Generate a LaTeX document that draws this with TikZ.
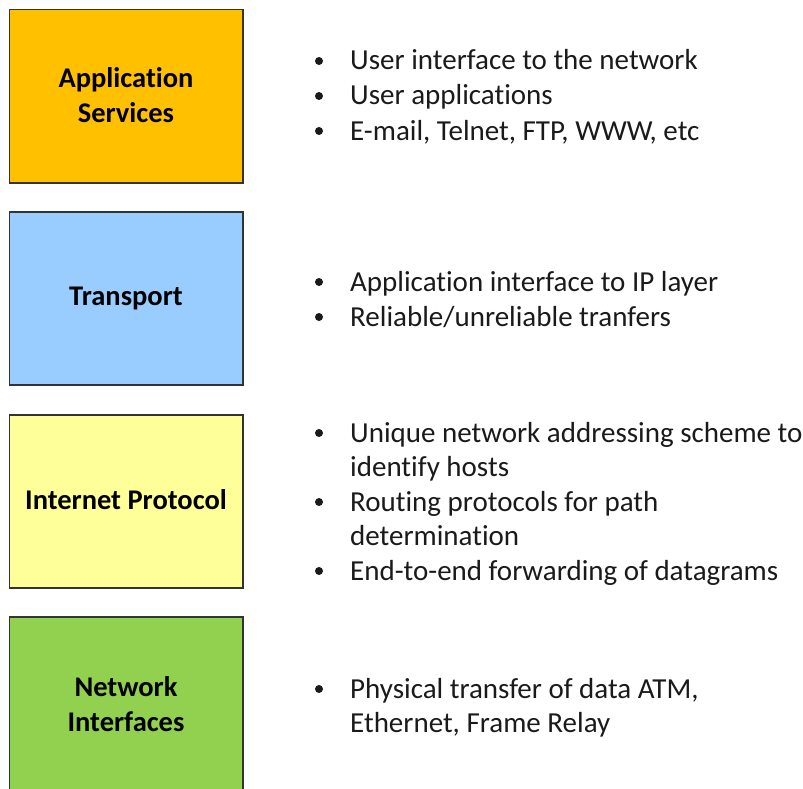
\documentclass[tikz,border=0pt]{standalone}
\usepackage{fontspec}
\setmainfont{Carlito}[Ligatures=NoCommon]
\definecolor{appc}{HTML}{FFC000}
\definecolor{trc}{HTML}{99CCFF}
\definecolor{ipc}{HTML}{FFFF99}
\definecolor{nic}{HTML}{92D050}
\definecolor{edge}{HTML}{333333}
\definecolor{txt}{HTML}{1A1A1A}
\begin{document}
\begin{tikzpicture}[x=1pt,y=-1pt,
  layer/.style={draw=edge,line width=1.5pt},
  lbl/.style={font=\fontsize{28.5}{35}\selectfont\bfseries,align=center,text=black,inner sep=0pt},
  item/.style={font=\fontsize{29}{35}\selectfont,anchor=base west,text=txt,inner sep=0pt},
  dot/.style={circle,fill=txt,inner sep=0pt,minimum size=8pt}]
\useasboundingbox (0,0) rectangle (803,789);
\clip (0,0) rectangle (803,789);
% boxes
\draw[layer,fill=appc] (9.5,9.5) rectangle (243,183);
\draw[layer,fill=trc] (9.5,212) rectangle (243,385);
\draw[layer,fill=ipc] (9.5,415) rectangle (243,588);
\draw[layer,fill=nic] (9.5,617) rectangle (243,800);
% labels
\node[lbl] (app) at (126,95) {Application\\Services};
\node[lbl] (tr) at (126,298) {Transport};
\node[lbl] (ip) at (126,500) {Internet Protocol};
\node[lbl] (ni) at (126,704) {Network\\Interfaces};
% bullets: application
\node[dot] (b1) at (319,61) {};
\node[item] (t1) at (350,70) {User interface to the network};
\node[dot] (b2) at (319,96) {};
\node[item] (t2) at (350,105) {User applications};
\node[dot] (b3) at (319,131) {};
\node[item] (t3) at (350,140) {E-mail, Telnet, FTP, WWW, etc};
% transport
\node[dot] (b4) at (319,282) {};
\node[item] (t4) at (350,291) {Application interface to IP layer};
\node[dot] (b5) at (319,317) {};
\node[item] (t5) at (350,326) {Reliable/unreliable tranfers};
% internet protocol
\node[dot] (b6) at (319,433) {};
\node[item] (t6) at (350,442) {Unique network addressing scheme to};
\node[item] (t6b) at (350,476) {identify hosts};
\node[dot] (b7) at (319,502) {};
\node[item] (t7) at (350,511) {Routing protocols for path};
\node[item] (t7b) at (350,545) {determination};
\node[dot] (b8) at (319,571) {};
\node[item] (t8) at (350,580) {End-to-end forwarding of datagrams};
% network interfaces
\node[dot] (b9) at (319,689) {};
\node[item] (t9) at (350,698) {Physical transfer of data ATM,};
\node[item] (t9b) at (350,732) {Ethernet, Frame Relay};
\end{tikzpicture}
\end{document}
